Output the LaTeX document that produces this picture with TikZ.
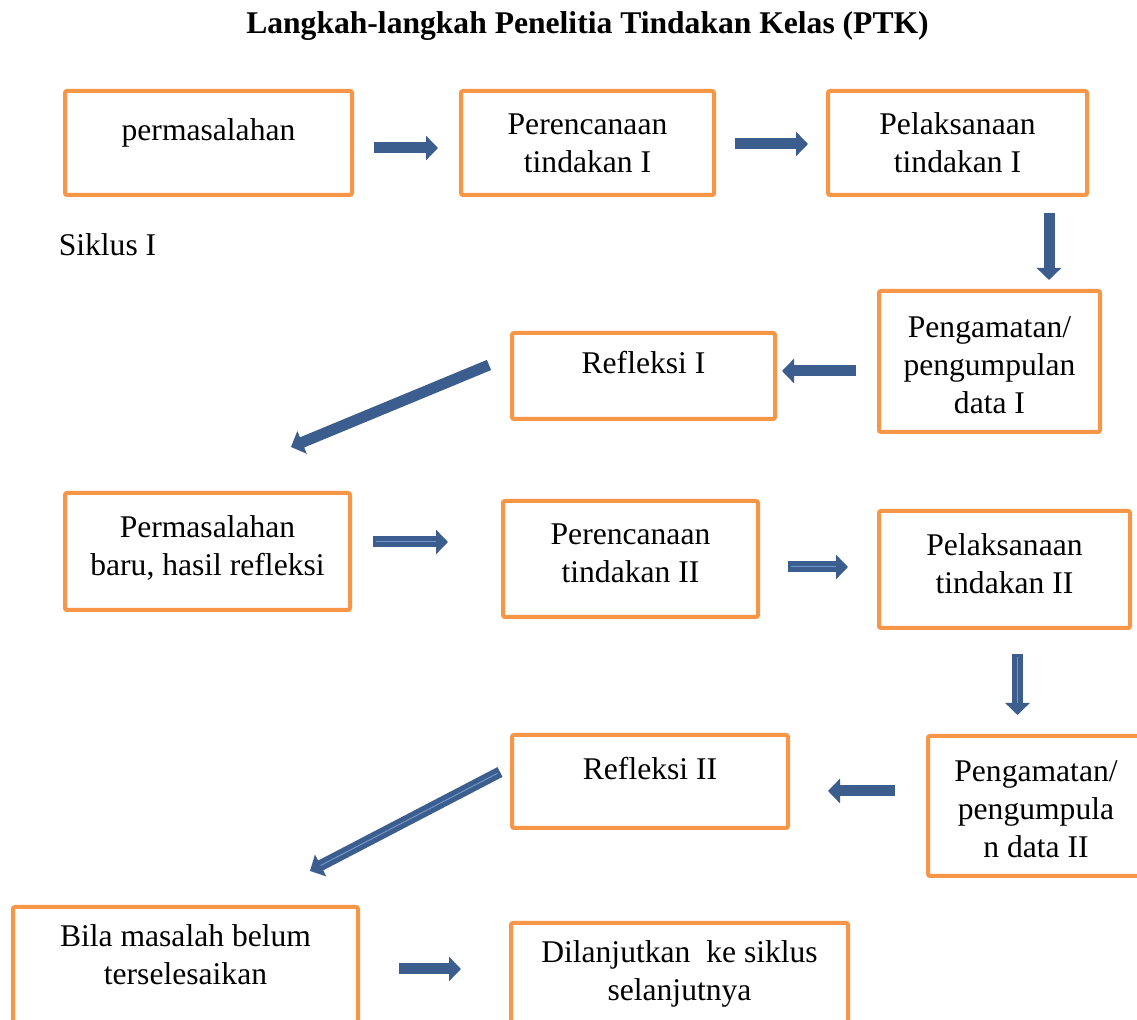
\documentclass[tikz,border=0pt]{standalone}
\usepackage{fontspec}
\setmainfont{Liberation Serif}
\usepackage{tikz}
\usetikzlibrary{arrows.meta}

\definecolor{boxorange}{HTML}{F79646}
\definecolor{arrowblue}{HTML}{3B5E8E}
\definecolor{arrowlight}{HTML}{7196CB}

\begin{document}
\begin{tikzpicture}[x=0.5pt, y=-0.5pt, font=\fontsize{15.8}{19}\selectfont]
    \tikzstyle{title} = [
      anchor=center,
      align=center,
      font=\fontsize{15.8}{19}\selectfont\bfseries,
    ]
    \tikzstyle{box} = [
      anchor=center,
      align=center,
      draw=boxorange,
      line width=2pt,
      rounded corners=1pt,
    ]
    \tikzstyle{onebox} = [
      box,
      text height=11pt,
      text depth=13pt,
    ]
    \tikzstyle{raisedbox} = [
      box,
      text depth=5.5pt,
    ]
    \tikzstyle{lowbox} = [
      box,
      text height=52pt,
    ]
    \tikzstyle{openbox} = [
      box,
      anchor=north,
      inner ysep=9pt,
      text depth=70pt,
    ]
    \tikzstyle{arrow} = [
      draw=arrowblue,
      line width=5.5pt,
      -{Triangle[length=6pt,width=12pt]},
    ]
    \tikzstyle{arrowlit} = [
      arrow,
      postaction={draw=arrowlight, line width=0.5pt, arrows=-, shorten <=1.5pt, shorten >=6pt},
    ]

    \clip (0,0) rectangle (1137,1020);
    \fill[white] (0,0) rectangle (1137,1020);

    % title
    {
      \node[title] (title) at (587.5,26) {Langkah-langkah Penelitia Tindakan Kelas (PTK)};
      \node[anchor=center] (siklus) at (107.5,245) {Siklus I};
    }

    % cycle I
    {
      \node[onebox, minimum width=143.5pt, minimum height=52pt] (masalah) at (208.5,143) {permasalahan};
      \node[box, minimum width=126.5pt, minimum height=52pt] (rencanaI) at (587.5,143) {Perencanaan\\tindakan I};
      \node[box, minimum width=129.5pt, minimum height=52pt] (laksanaI) at (957.5,143) {Pelaksanaan\\tindakan I};
      \node[lowbox, minimum width=110.5pt, minimum height=70.5pt] (amatI) at (989.5,361.5) {Pengamatan/\\pengumpulan\\data I};
      \node[onebox, minimum width=131.5pt, minimum height=43pt] (refleksiI) at (643.5,376) {Refleksi I};

      \draw[arrow] ([xshift=10pt, yshift=-2.5pt] masalah.east) -- ([xshift=-10.5pt, yshift=-2.5pt] rencanaI.west);
      \draw[arrow] ([xshift=9.5pt, yshift=-0.5pt] rencanaI.east) -- ([xshift=-9pt, yshift=-0.5pt] laksanaI.west);
      \draw[arrow] ([xshift=45.75pt, yshift=-8pt] laksanaI.south) -- ([xshift=29.75pt, yshift=4.5pt] amatI.north);
      \draw[arrow] ([xshift=-10.5pt, yshift=-4.75pt] amatI.west) -- ([xshift=2.5pt, yshift=2.5pt] refleksiI.east);
    }

    % cycle II
    {
      \node[raisedbox, minimum width=142.5pt, minimum height=58.5pt] (masalahII) at (207.5,551.5) {Permasalahan\\baru, hasil refleksi};
      \node[raisedbox, minimum width=127.5pt, minimum height=58pt] (rencanaII) at (630.5,559) {Perencanaan\\tindakan II};
      \node[raisedbox, minimum width=125.5pt, minimum height=58.5pt] (laksanaII) at (1004.5,569.5) {Pelaksanaan\\tindakan II};
      \node[lowbox, minimum width=108pt, minimum height=70pt] (amatII) at (1036,806) {Pengamatan/\\pengumpula\\n data II};
      \node[onebox, minimum width=138pt, minimum height=46.5pt] (refleksiII) at (650,781.5) {Refleksi II};

      \draw[arrow] ([xshift=-10.5pt, yshift=5.5pt] refleksiI.west) -- ([xshift=41.75pt, yshift=22pt] masalahII.north);
      \draw[arrowlit] ([xshift=10.5pt, yshift=4.75pt] masalahII.east) -- ([xshift=-26.5pt, yshift=8.5pt] rencanaII.west);
      \draw[arrowlit] ([xshift=14pt, yshift=-4pt] rencanaII.east) -- ([xshift=-14.5pt, yshift=1.25pt] laksanaII.west);
      \draw[arrowlit] ([xshift=6.5pt, yshift=-12pt] laksanaII.south) -- ([xshift=-9.25pt, yshift=9.5pt] amatII.north);
      \draw[arrow] ([xshift=-15.5pt, yshift=7.5pt] amatII.west) -- ([xshift=19pt, yshift=-4.75pt] refleksiII.east);
    }

    % next cycle
    {
      \node[openbox, minimum width=172.5pt] (belum) at (185.5,905) {Bila masalah belum\\terselesaikan};
      \node[openbox, minimum width=168.5pt] (lanjut) at (679.5,921) {Dilanjutkan\ \ ke siklus\\selanjutnya};

      \draw[arrowlit] ([xshift=-5pt, yshift=4.75pt] refleksiII.west) -- ([xshift=62.25pt, yshift=17pt] belum.north);
      \draw[arrow] ([xshift=19.5pt, yshift=-32pt] belum.north east) -- ([xshift=-24pt, yshift=-24pt] lanjut.north west);
    }
\end{tikzpicture}
\end{document}
